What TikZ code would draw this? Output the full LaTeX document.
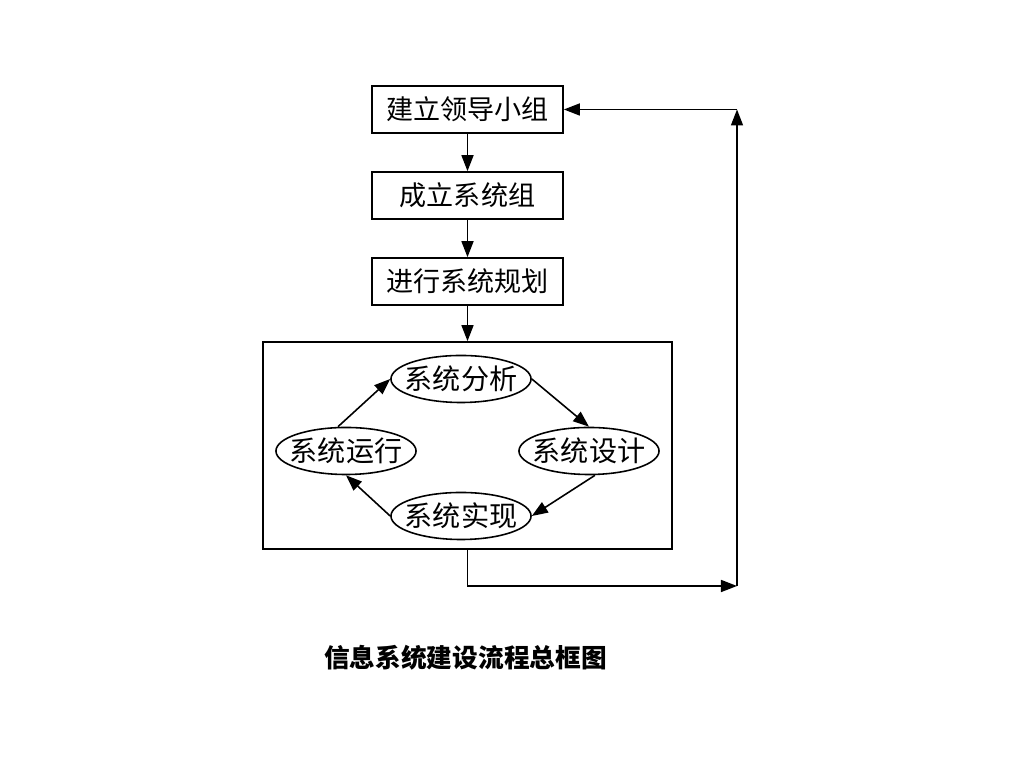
\documentclass[tikz,border=0pt]{standalone}
\usepackage{fontspec}
\newfontfamily\cjk{Noto Sans CJK SC}
\usetikzlibrary{shapes.geometric,arrows.meta}

\begin{document}
\begin{tikzpicture}[x=0.01cm,y=-0.01cm,line width=0.45pt,
	box/.style={draw,minimum width=1.91cm,minimum height=0.47cm,inner sep=0pt,font=\cjk\fontsize{7.7pt}{9pt}\selectfont},
	oval/.style={draw,ellipse,minimum width=1.4cm,minimum height=0.47cm,inner xsep=-0.07cm,inner ysep=0pt,font=\cjk\fontsize{8pt}{9pt}\selectfont},
	arr/.style={-{Triangle[length=1.6mm,width=1.2mm]}}]
	\useasboundingbox (0,0) rectangle (1024,768);
	\node[box] (lead) at (467.5,109.5) {建立领导小组};
	\node[box] (group) at (467.5,195.5) {成立系统组};
	\node[box] (plan) at (467.5,281.5) {进行系统规划};
	\node[draw,minimum width=4.09cm,minimum height=2.07cm,inner sep=0pt] (cycle) at (467.5,445.5) {};
	\node[oval] (ana) at (461,379) {系统分析};
	\node[oval] (des) at (589,451) {系统设计};
	\node[oval] (impl) at (461,516) {系统实现};
	\node[oval] (run) at (346,451) {系统运行};
	\node[font=\cjk\bfseries\fontsize{7.3pt}{9pt}\selectfont] (title) at (465.5,658) {信息系统建设流程总框图};
	\coordinate (low) at (737,586);
	\coordinate (high) at (737,109.5);
	% main flow
	\draw[arr] (lead) -- (group);
	\draw[arr] (group) -- (plan);
	\draw[arr] (plan) -- (cycle);
	% cycle inside the box
	\draw[arr] (run.north) ++(-8,0) -- (ana.west);
	\draw[arr] (ana.east) -- (des.north);
	\draw[arr] (des.south) ++(6,0) -- (impl.east);
	\draw[arr] (impl.west) -- (run.south);
	% feedback loop
	\draw[arr] (cycle.south) |- (low);
	\draw[arr] (low) -- (high);
	\draw[arr] (high) -- (lead.east);
\end{tikzpicture}
\end{document}
